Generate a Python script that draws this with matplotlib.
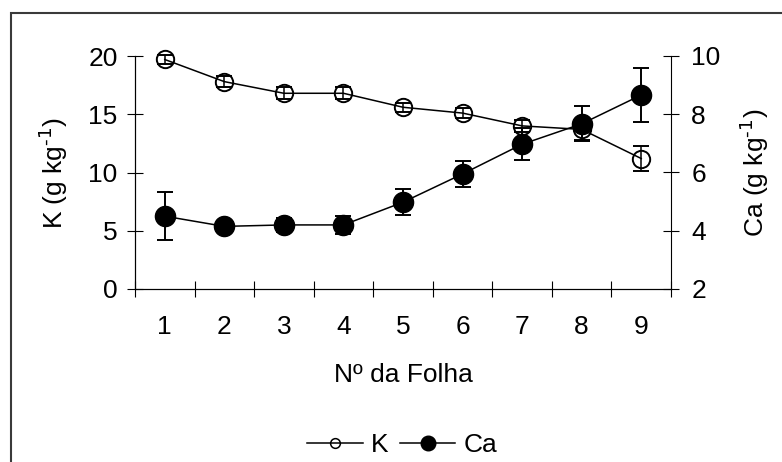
import matplotlib.pyplot as plt
import numpy as np
from matplotlib.lines import Line2D
from matplotlib.patches import Rectangle

plt.rcParams['font.family'] = ['Liberation Sans', 'DejaVu Sans']
plt.rcParams['mathtext.default'] = 'regular'

# leaf number and nutrient contents (g kg-1)
folha = [1, 2, 3, 4, 5, 6, 7, 8, 9]
k_vals = [19.7, 17.8, 16.8, 16.8, 15.6, 15.1, 14.0, 13.7, 11.2]
k_err = [0.4, 0.5, 0.5, 0.5, 0.4, 0.4, 0.5, 0.9, 1.1]
ca_vals = [4.5, 4.15, 4.2, 4.2, 4.98, 5.95, 6.97, 7.67, 8.66]
ca_err = [0.82, 0.12, 0.25, 0.3, 0.45, 0.45, 0.55, 0.6, 0.93]

fs = 19

fig = plt.figure(figsize=(7.82, 4.62), dpi=100)
ax = fig.add_axes([135/782, 1-289/462, 536/782, 233/462])
ax2 = ax.twinx()

# outer frame (only left and top edges fall inside the image)
fig.add_artist(Rectangle((11/782, -0.2), 1.2, 1.2 - 13/462, transform=fig.transFigure,
                         fill=False, ec='#3a3a3a', lw=1.5))

k_line = ax.errorbar(folha, k_vals, yerr=k_err, color='black', lw=1.1, marker='o', ms=12.5,
                     mfc='none', mec='black', mew=1.4, capsize=5.5, capthick=1.1,
                     elinewidth=1.1)
ca_line = ax2.errorbar(folha, ca_vals, yerr=ca_err, color='black', lw=1.1, marker='o', ms=14.5,
                       mfc='black', mec='black', capsize=5.5, capthick=1.4, elinewidth=1.4)
for eb in (k_line, ca_line):
    for art in [eb.lines[0]] + list(eb.lines[1]) + list(eb.lines[2]):
        art.set_clip_on(False)

ax.set_xlim(0.5, 9.5)
ax.set_ylim(0, 20)
ax2.set_ylim(2, 10)
ax.set_yticks([0, 5, 10, 15, 20])
ax2.set_yticks([2, 4, 6, 8, 10])
ax.set_xticks(folha)
ax.set_xticks(np.arange(0.5, 10, 1), minor=True)

for a in (ax, ax2):
    a.spines['top'].set_visible(False)
    for s in a.spines.values():
        s.set_linewidth(0.8)
ax.spines['right'].set_visible(False)

ax.tick_params(axis='x', which='major', length=0, pad=19, labelsize=fs)
ax.tick_params(axis='x', which='minor', direction='inout', length=11, width=0.8)
ax.tick_params(axis='y', direction='inout', length=11, width=0.8, pad=7, labelsize=fs)
ax2.tick_params(axis='y', direction='inout', length=11, width=0.8, pad=9, labelsize=fs)

ax.set_xlabel('Nº da Folha', fontsize=fs, labelpad=17)
ax.set_ylabel(r'K (g kg$^{\text{-1}}$)', fontsize=fs, labelpad=13)
ax2.set_ylabel(r'Ca (g kg$^{\text{-1}}$)', fontsize=fs, labelpad=13)

handles = [Line2D([], [], color='black', lw=1.1, marker='o', ms=7, mfc='none', mew=1.1),
           Line2D([], [], color='black', lw=1.1, marker='o', ms=10.5, mfc='black')]
fig.legend(handles, ['K', 'Ca'], loc='center', bbox_to_anchor=(402/782, 1-445/462),
           ncol=2, frameon=False, fontsize=fs, handlelength=2.1, handletextpad=0.3,
           columnspacing=0.45)

fig.savefig('out.png', dpi=100)
